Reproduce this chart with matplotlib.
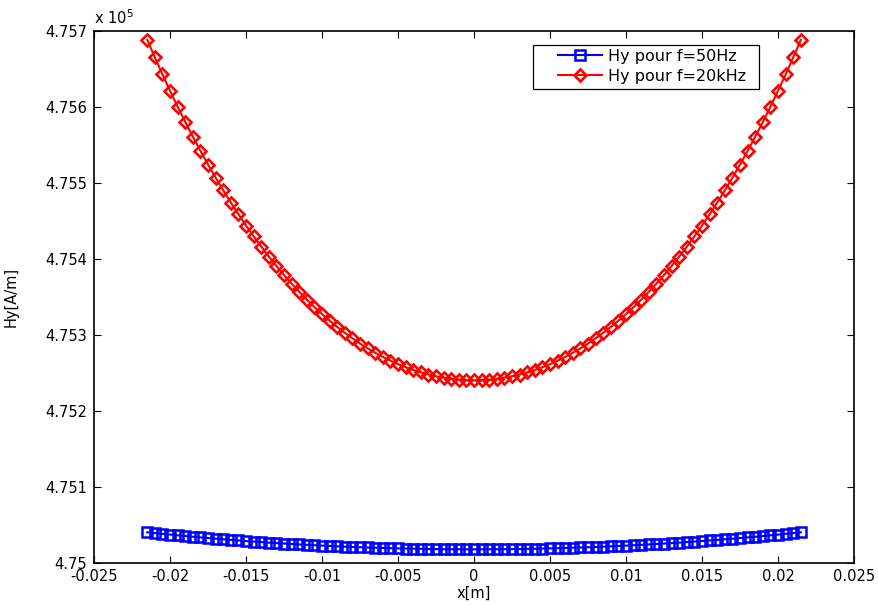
import numpy as np
import matplotlib
matplotlib.use('Agg')
import matplotlib.pyplot as plt
from matplotlib.ticker import FuncFormatter
from matplotlib.patches import Rectangle

# x positions [m]
x = np.round(np.arange(-43, 44) * 0.0005, 5)

# Hy [A/m] for f = 50 Hz
hy_50 = [475039.8, 475038.8, 475037.8, 475036.8, 475035.8, 475034.9, 475034.0, 475033.1, 475032.3, 475031.4,
         475030.6, 475029.8, 475029.1, 475028.3, 475027.6, 475026.9, 475026.2, 475025.6, 475025.0, 475024.4,
         475023.8, 475023.3, 475022.8, 475022.3, 475021.8, 475021.3, 475020.9, 475020.5, 475020.1, 475019.8,
         475019.5, 475019.2, 475018.9, 475018.6, 475018.4, 475018.2, 475018.0, 475017.8, 475017.7, 475017.6,
         475017.5, 475017.5, 475017.4, 475017.4,
         475017.4, 475017.5, 475017.5, 475017.6, 475017.7, 475017.8, 475018.0, 475018.2, 475018.4, 475018.6,
         475018.9, 475019.2, 475019.5, 475019.8, 475020.1, 475020.5, 475020.9, 475021.3, 475021.8, 475022.3,
         475022.8, 475023.3, 475023.8, 475024.4, 475025.0, 475025.6, 475026.2, 475026.9, 475027.6, 475028.3,
         475029.1, 475029.8, 475030.6, 475031.4, 475032.3, 475033.1, 475034.0, 475034.9, 475035.8, 475036.8,
         475037.8, 475038.8, 475039.8]

# Hy [A/m] for f = 20 kHz
hy_20k = [475688.3, 475665.2, 475642.8, 475621.2, 475600.3, 475580.2, 475560.8, 475542.1, 475524.1, 475506.8,
          475490.1, 475474.0, 475458.6, 475443.8, 475429.6, 475416.0, 475403.0, 475390.5, 475378.6, 475367.3,
          475356.5, 475346.2, 475336.4, 475327.2, 475318.5, 475310.2, 475302.5, 475295.2, 475288.4, 475282.1,
          475276.2, 475270.8, 475265.8, 475261.3, 475257.2, 475253.6, 475250.4, 475247.6, 475245.3, 475243.4,
          475241.9, 475240.9, 475240.2, 475240.0,
          475240.2, 475240.9, 475241.9, 475243.4, 475245.3, 475247.6, 475250.4, 475253.6, 475257.2, 475261.3,
          475265.8, 475270.8, 475276.2, 475282.1, 475288.4, 475295.2, 475302.5, 475310.2, 475318.5, 475327.2,
          475336.4, 475346.2, 475356.5, 475367.3, 475378.6, 475390.5, 475403.0, 475416.0, 475429.6, 475443.8,
          475458.6, 475474.0, 475490.1, 475506.8, 475524.1, 475542.1, 475560.8, 475580.2, 475600.3, 475621.2,
          475642.8, 475665.2, 475688.3]

xticks = [-0.025, -0.02, -0.015, -0.01, -0.005, 0, 0.005, 0.01, 0.015, 0.02, 0.025]
xticklabels = ['-0.025', '-0.02', '-0.015', '-0.01', '-0.005', '0', '0.005', '0.01', '0.015', '0.02', '0.025']
yticks = [475000, 475100, 475200, 475300, 475400, 475500, 475600, 475700]

plt.rcParams['font.family'] = 'DejaVu Sans'
plt.rcParams['axes.unicode_minus'] = False

fig = plt.figure(figsize=(8.79, 6.05), dpi=100)
ax = fig.add_axes([0.107, 0.0702, 0.8646, 0.8786])

ax.plot(x, hy_50, color='b', linewidth=1.5, marker='s', mfc='none', mec='b', ms=7, mew=1.8,
        label='Hy pour f=50Hz')
ax.plot(x, hy_20k, color='r', linewidth=1.5, marker='D', mfc='none', mec='r', ms=5.8, mew=1.9,
        label='Hy pour f=20kHz')

ax.set_xlim(-0.025, 0.025)
ax.set_ylim(475000, 475700)
ax.set_xticks(xticks)
ax.set_xticklabels(xticklabels)
ax.set_yticks(yticks)
ax.yaxis.set_major_formatter(FuncFormatter(lambda v, p: '%g' % (v / 1e5)))

ax.tick_params(direction='in', length=5, width=0.8, top=True, right=True, labelsize=10.5, pad=5)
plt.setp(ax.spines.values(), linewidth=1.2)

ax.set_xlabel('x[m]', fontsize=10.5, labelpad=1)
ax.set_ylabel('Hy[A/m]', fontsize=10.5, labelpad=19)
ax.text(0.0, 1.008, r'x 10$^{5}$', transform=ax.transAxes, fontsize=10.5, ha='left', va='bottom')

# legend box drawn like matlab's (wider padding on the left)
ax.add_patch(Rectangle((0.578, 0.891), 0.297, 0.083, transform=ax.transAxes, fill=False,
                       edgecolor='k', linewidth=0.9, zorder=5))
ax.legend(loc='upper left', bbox_to_anchor=(0.6105, 0.966), borderaxespad=0, frameon=False,
          fontsize=11.5, handlelength=2.75, handletextpad=0.4, borderpad=0, labelspacing=0.3)

plt.savefig('out.png', dpi=100)
